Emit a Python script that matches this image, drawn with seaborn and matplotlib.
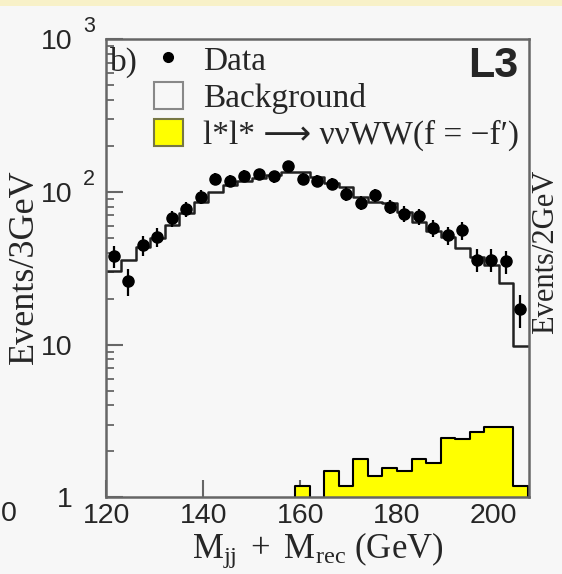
import numpy as np
import pandas as pd
import seaborn as sns
import matplotlib
matplotlib.use("Agg")
import matplotlib.pyplot as plt
from matplotlib.lines import Line2D
from matplotlib.patches import Patch, Rectangle
import matplotlib.transforms as mtransforms
from matplotlib.ticker import FixedLocator, FixedFormatter, LogLocator, NullFormatter

# ---------------- data ----------------
bin_edges = [120, 123, 126, 129, 132, 135, 138, 141, 144, 147, 150, 153, 156, 159,
             162, 165, 168, 171, 174, 177, 180, 183, 186, 189, 192, 195, 198, 201, 204, 207]
data_counts = [38, 26, 45, 51, 67, 77, 93, 121, 118, 127, 130, 126, 148, 122,
               118, 113, 97, 85, 95, 80, 72, 69, 58, 52, 56, 36, 36, 35, 17]
background = [30.4, 35.9, 43.8, 49.6, 60.7, 72.2, 86, 100, 110.6, 117, 123, 128.5, 135, 135,
              125, 114, 108, 93, 86, 84, 74, 63, 55, 51, 43, 37.7, 33.3, 25.3, 9.8]
signal = [0, 0, 0, 0, 0, 0, 0, 0, 0, 0, 0, 0, 0, 1.19,
          0, 1.48, 1.19, 1.78, 1.38, 1.57, 1.49, 1.78, 1.69, 2.46, 2.40, 2.69, 2.88, 2.88, 1.19]
x_ticks = [120, 140, 160, 180, 200]
y_ticks = [1, 10, 100, 1000]
y_tick_base = ["1", "10", "10", "10"]
y_tick_exp = ["", "", "2", "3"]

centers = [(a + b) / 2 for a, b in zip(bin_edges[:-1], bin_edges[1:])]
df = pd.DataFrame({"mass": centers, "data": data_counts,
                   "background": background, "signal": signal})

# ---------------- style ----------------
sns.set_style("ticks")
plt.rcParams["font.family"] = ["Liberation Sans", "DejaVu Sans"]
plt.rcParams["mathtext.fontset"] = "custom"
plt.rcParams["mathtext.rm"] = "Liberation Serif"
plt.rcParams["mathtext.it"] = "Liberation Serif:italic"
plt.rcParams["mathtext.sf"] = "Liberation Sans"

BG = "#f7f7f7"
SPINE = "#666666"
SERIF = ["Liberation Serif", "DejaVu Sans"]

fig = plt.figure(figsize=(5.62, 5.74), dpi=100, facecolor=BG)
fig.patches.append(Rectangle((0, 1 - 6 / 574), 1, 6 / 574, transform=fig.transFigure,
                             facecolor="#f8f1c8", edgecolor="none", zorder=-1))
ax = fig.add_axes([0.1895, 0.1333, 0.7512, 0.7988])
ax.set_facecolor(BG)
ax.set_yscale("log")

# signal (yellow filled step)
sns.histplot(data=df, x="mass", weights="signal", bins=bin_edges, element="step",
             fill=True, color="#ffff00", alpha=1.0, edgecolor="black", linewidth=1.5,
             legend=False, ax=ax, zorder=1)
# background (open step)
sns.histplot(data=df, x="mass", weights="background", bins=bin_edges, element="step",
             fill=False, color="#222222", linewidth=1.8, legend=False, ax=ax, zorder=2)
# data points
ax.errorbar(df["mass"], df["data"], yerr=np.sqrt(df["data"]), fmt="o", color="black",
            markersize=8, elinewidth=1.6, capsize=0, zorder=3)

ax.set_xlim(120, 207.2)
ax.set_ylim(1, 1000)

for s in ax.spines.values():
    s.set_color(SPINE)
    s.set_linewidth(1.8)
    s.set_visible(True)

ax.xaxis.set_major_locator(FixedLocator(x_ticks))
ax.xaxis.set_minor_locator(FixedLocator([]))
ax.tick_params(axis="x", which="major", direction="in", length=12, width=1.5,
               color=SPINE, labelsize=20.5, pad=4, bottom=True, top=False)
ax.yaxis.set_major_locator(FixedLocator(y_ticks))
ax.yaxis.set_major_formatter(FixedFormatter(y_tick_base))
ax.yaxis.set_minor_locator(LogLocator(base=10, subs=[2, 3, 4, 5, 6, 7, 8, 9]))
ax.yaxis.set_minor_formatter(NullFormatter())
ax.tick_params(axis="y", which="major", direction="in", length=12, width=1.5,
               color=SPINE, labelsize=20.5, pad=24.5, left=True, right=False)
ax.tick_params(axis="y", which="minor", direction="in", length=6, width=1.3,
               color=SPINE, left=True, right=False)

# exponents of the y tick labels
trans = mtransforms.blended_transform_factory(ax.transAxes, ax.transData)
for v, e in zip(y_ticks, y_tick_exp):
    if e:
        tr = mtransforms.offset_copy(trans, fig=fig, x=0, y=12, units="dots")
        ax.text(-0.0557, v, e, transform=tr, ha="left", va="center", fontsize=15.5,
                family=["Liberation Sans"], clip_on=False)

ax.set_xlabel(r"$\mathrm{M_{jj}\ +\ M_{rec}}$ (GeV)", family=SERIF, fontsize=25, labelpad=1)
ax.set_ylabel("Events/3GeV", family=SERIF, fontsize=26)
ax.yaxis.set_label_coords(-0.155, 0.504)

# legend
handles = [
    Line2D([], [], marker="o", color="black", linestyle="none", markersize=7),
    Patch(facecolor=BG, edgecolor="#888888", linewidth=1.5),
    Patch(facecolor="#ffff00", edgecolor="#777744", linewidth=1.5),
]
labels = ["Data", "Background", "l*l* \u27f6 \u03bd\u03bdWW(f = \u2212f\u2032)"]
leg = ax.legend(handles, labels, loc="upper left", bbox_to_anchor=(0.1125, 0.988),
                frameon=False, prop={"family": SERIF, "size": 24}, borderpad=0,
                borderaxespad=0, handlelength=0.87, handleheight=0.87,
                handletextpad=0.6, labelspacing=0.16)

ax.text(0.008, 0.950, "b)", transform=ax.transAxes, family=SERIF, fontsize=24,
        ha="left", va="center")
ax.text(0.9747, 0.941, "L3", transform=ax.transAxes, family=["Liberation Sans"],
        fontsize=31, fontweight="bold", ha="right", va="center")

# cropped neighbours of the original figure
fig.text(546 / 562, 1 - 252 / 574, "Events/2GeV", rotation=90, family=SERIF,
         fontsize=22, ha="center", va="center")
fig.text(0.5 / 562, 1 - 514 / 574, "0", family=["Liberation Sans"], fontsize=20.5,
         ha="left", va="center")

fig.savefig("out.png", dpi=100, facecolor=BG)
